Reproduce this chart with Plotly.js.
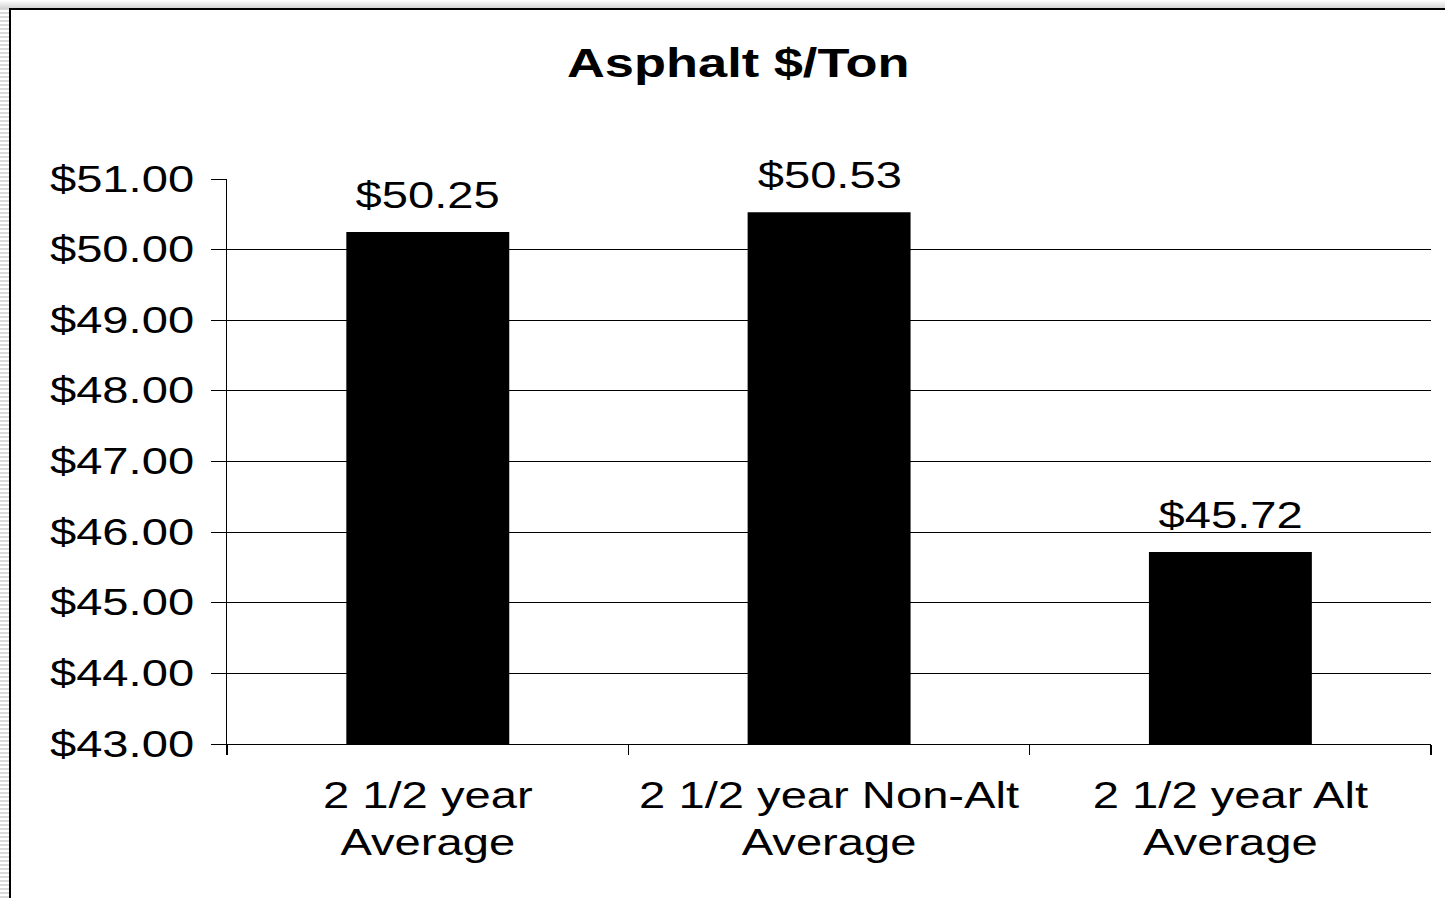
<!DOCTYPE html>
<html>
<head>
<meta charset="utf-8">
<script src="https://cdn.plot.ly/plotly-3.0.1.min.js"></script>
<style>
  html, body { margin: 0; padding: 0; width: 1445px; height: 898px; overflow: hidden; }
  body {
    background: repeating-linear-gradient(to bottom, #d9d9d9 0px, #d9d9d9 2px, #ffffff 2px, #ffffff 4px);
  }
  #top { position: absolute; left: 0; top: 0; width: 1445px; height: 9px;
    background: linear-gradient(to bottom, #ffffff, #d0d0d0); }
  #frame { position: absolute; left: 9px; top: 8px; width: 1434px; height: 888px;
    border-left: 2px solid #000; border-top: 2px solid #000; background: #fff; overflow: hidden; }
  #chart { position: absolute; left: 0; top: 0; width: 1095px; height: 888px;
    transform: scaleX(1.31); transform-origin: 0 0; }
</style>
</head>
<body>
<div id="top"></div>
<div id="frame"><div id="chart"></div></div>
<script>
const categories = ["2 1/2 year<br>Average", "2 1/2 year Non-Alt<br>Average", "2 1/2 year Alt<br>Average"];
const values = [50.25, 50.53, 45.72];
const valueLabels = ["$50.25", "$50.53", "$45.72"];
const yTickVals = [43, 44, 45, 46, 47, 48, 49, 50, 51];
const yTickText = ["$43.00", "$44.00", "$45.00", "$46.00", "$47.00", "$48.00", "$49.00", "$50.00", "$51.00"];
const gridVals = [44, 45, 46, 47, 48, 49, 50];

const font = "Liberation Sans, Arial, sans-serif";

const data = [{
  type: "bar",
  x: categories,
  y: values,
  marker: { color: "#000000", line: { width: 0 } },
  hoverinfo: "skip"
}, {
  // invisible helper trace so the grid-only overlay axis is drawn
  type: "scatter", x: [categories[0]], y: [values[0]], yaxis: "y2",
  mode: "markers", marker: { opacity: 0 }, hoverinfo: "skip"
}];

const annotations = values.map((v, i) => ({
  x: categories[i], y: v, xref: "x", yref: "y",
  text: valueLabels[i], showarrow: false,
  yanchor: "bottom", yshift: 14,
  font: { family: font, size: 36, color: "#000" }
}));

const layout = {
  width: 1095, height: 888,
  margin: { l: 165, r: 11, t: 169, b: 154, pad: 0 },
  paper_bgcolor: "#ffffff",
  plot_bgcolor: "#ffffff",
  showlegend: false,
  bargap: 0.594,
  title: {
    text: "<b>Asphalt $/Ton</b>",
    font: { family: font, size: 40, color: "#000" },
    x: 0.507, xanchor: "center", y: 0.94, yanchor: "middle"
  },
  xaxis: {
    type: "category",
    showline: true, linecolor: "#000", linewidth: 1,
    ticks: "outside", tickson: "boundaries", ticklen: 10, tickcolor: "#000",
    ticklabelstandoff: 20,
    tickfont: { family: font, size: 36, color: "#000" },
    showgrid: false, fixedrange: true
  },
  yaxis: {
    range: [43, 51],
    tickvals: yTickVals, ticktext: yTickText,
    showline: true, linecolor: "#000", linewidth: 1,
    ticks: "outside", ticklen: 11, tickcolor: "#000",
    ticklabelstandoff: 6,
    tickfont: { family: font, size: 36, color: "#000" },
    showgrid: false, zeroline: false, fixedrange: true
  },
  yaxis2: {
    range: [43, 51], overlaying: "y",
    tickvals: gridVals, showticklabels: false, ticks: "",
    showgrid: true, gridcolor: "#000", gridwidth: 1,
    zeroline: false, showline: false, fixedrange: true
  },
  annotations: annotations
};

Plotly.newPlot("chart", data, layout, { displayModeBar: false, staticPlot: true });
</script>
</body>
</html>
